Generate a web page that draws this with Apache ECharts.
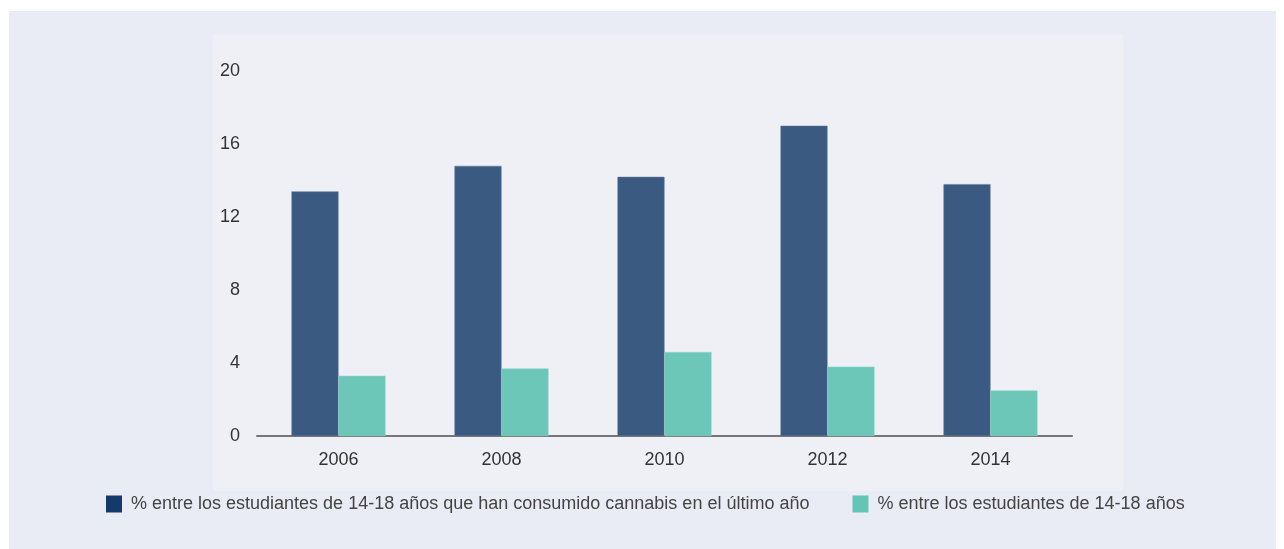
<!DOCTYPE html>
<html><head><meta charset="utf-8">
<script src="https://cdn.jsdelivr.net/npm/echarts@6/dist/echarts.min.js"></script>
<style>html,body{margin:0;padding:0;background:#fff}#c{width:1284px;height:549px}</style>
</head><body><div id="c"></div>
<script>
const categories = ['2006','2008','2010','2012','2014'];
const cannabisValues = [13.4, 14.8, 14.2, 17.0, 13.8];
const secondValues = [3.3, 3.7, 4.6, 3.8, 2.5];
const seriesNames = ['% entre los estudiantes de 14-18 años que han consumido cannabis en el último año', '% entre los estudiantes de 14-18 años'];

const chart = echarts.init(document.getElementById('c'));
const FONT = 'Liberation Sans, Arial, sans-serif';
chart.setOption({
  backgroundColor: '#ffffff',
  animation: false,
  graphic: [
    {type:'rect', shape:{x:9,y:11,width:1267,height:538}, style:{fill:'#e9ecf4'}, z:-10},
    {type:'rect', shape:{x:213,y:34,width:910,height:457}, style:{fill:'#eef0f5'}, z:-9}
  ],
  grid: {left:257, right:212, top:71, bottom:113},
  legend: {
    left: 101, top: 490, itemWidth: 16, itemHeight: 17, itemGap: 43,
    icon: 'rect',
    itemStyle: {borderWidth: 0},
    textStyle: {fontFamily: FONT, fontSize:18, color:'#444', padding:[6,0,0,4]},
    data: [
      {name: seriesNames[0], itemStyle:{color:'#143a6b', borderWidth:0}},
      {name: seriesNames[1], itemStyle:{color:'#63c5b6', borderWidth:0}}
    ]
  },
  xAxis: {
    type:'category', data: categories,
    axisLine:{lineStyle:{color:'#777', width:2}},
    axisTick:{show:false},
    axisLabel:{fontFamily: FONT, fontSize:18, color:'#333', margin:15}
  },
  yAxis: {
    type:'value', min:0, max:20, interval:4,
    axisLine:{show:false}, axisTick:{show:false}, splitLine:{show:false},
    axisLabel:{fontFamily: FONT, fontSize:18, color:'#333', margin:17}
  },
  series: [
    {name: seriesNames[0], type:'bar', data: cannabisValues, barWidth:47, barGap:'0%',
     itemStyle:{color:'#3b5a82', borderColor:'#5d7599', borderWidth:0.5}},
    {name: seriesNames[1], type:'bar', data: secondValues, barWidth:47, barGap:'0%',
     itemStyle:{color:'#6cc7b8', borderColor:'#8dd6ca', borderWidth:0.5}}
  ]
});
</script></body></html>
